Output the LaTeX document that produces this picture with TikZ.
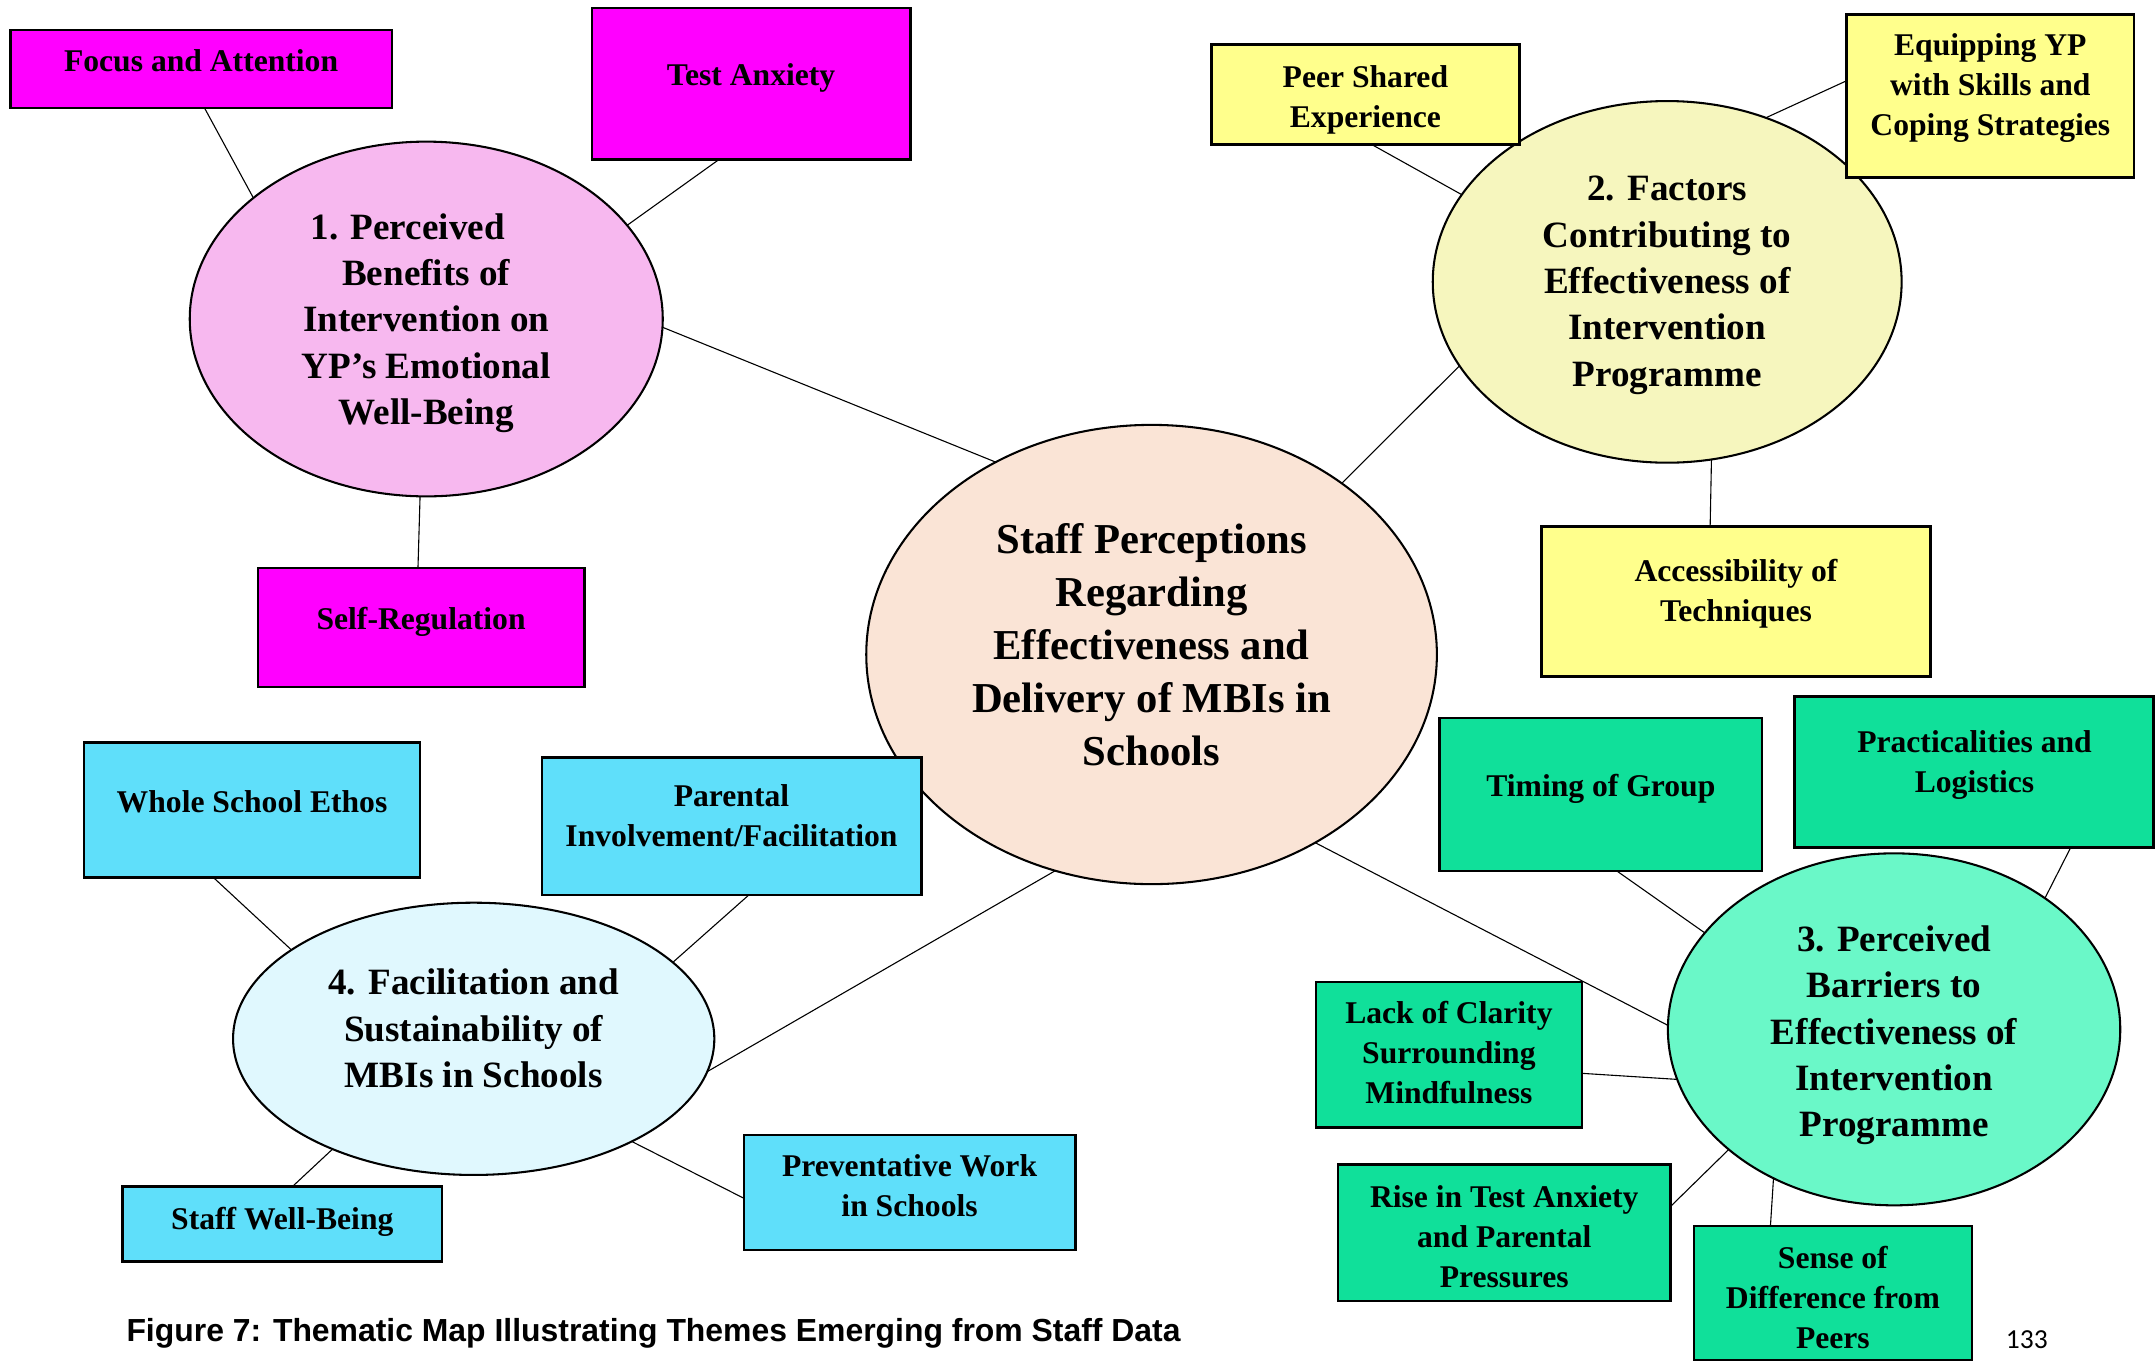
\documentclass[tikz,border=0pt]{standalone}
\usepackage{fontspec}
\setmainfont{Liberation Serif}
\newfontfamily\capfont{Liberation Sans}
\newfontfamily\pagenumfont{Carlito}
\usetikzlibrary{shapes.geometric}

\definecolor{cMag}{HTML}{FF00FF}
\definecolor{cPink}{HTML}{F7B8EF}
\definecolor{cYel}{HTML}{FFFF8C}
\definecolor{cYelL}{HTML}{F6F6BE}
\definecolor{cTeal}{HTML}{10E09A}
\definecolor{cTealL}{HTML}{6AF8C8}
\definecolor{cCyan}{HTML}{5FDFFA}
\definecolor{cCyanL}{HTML}{E0F8FE}
\definecolor{cPeach}{HTML}{FAE4D6}

\begin{document}
\begin{tikzpicture}[x=1pt,y=-1pt,
  every node/.style={inner sep=0pt, outer sep=0pt},
  dims/.style 2 args={minimum width=#1pt, minimum height=#2pt},
  boxbase/.style={draw=black, line width=1.8pt, rectangle},
  magbox/.style={boxbase, fill=cMag},
  yelbox/.style={boxbase, fill=cYel},
  tealbox/.style={boxbase, fill=cTeal},
  cyanbox/.style={boxbase, fill=cCyan},
  ellbase/.style={draw=black, line width=1.5pt, ellipse},
  boxtxt/.style={font=\bfseries\fontsize{23}{29}\selectfont, align=center},
  elltxt/.style={font=\bfseries\fontsize{27}{33.7}\selectfont, align=center},
  maintxt/.style={font=\bfseries\fontsize{31}{38.5}\selectfont, align=center},
  link/.style={draw=black, line width=0.8pt}
]
\useasboundingbox[fill=white] (0,0) rectangle (1568,991);

% ---------- ellipses ----------
\node[ellbase, fill=cPeach, dims={415}{334}] (ec) at (837.5,476) {};
\node[ellbase, fill=cPink,  dims={344}{258}] (e1) at (310,232) {};
\node[ellbase, fill=cYelL,  dims={341}{263}] (e2) at (1212.5,205) {};
\node[ellbase, fill=cTealL, dims={329}{256}] (e3) at (1377.5,748.6) {};
\node[ellbase, fill=cCyanL, dims={350}{198}] (e4) at (344.5,755.5) {};

% ---------- boxes ----------
\node[magbox, dims={277.5}{56.5}] (focus)   at (146.25,50.25) {};
\node[magbox, dims={231.5}{110}]  (anxiety) at (546.25,61) {};
\node[magbox, dims={237.5}{86.6}] (selfreg) at (306.25,456.3) {};

\node[yelbox, dims={224}{72.5}]   (peer)   at (993,68.75) {};
\node[yelbox, dims={209}{118.6}]  (equip)  at (1447.5,69.7) {};
\node[yelbox, dims={283}{109}]    (access) at (1262.5,437.5) {};

\node[cyanbox, dims={244.6}{98}]  (whole)    at (183.3,589) {};
\node[cyanbox, dims={276}{100}]   (parental) at (532,601) {};
\node[cyanbox, dims={232.6}{54.5}](staff)    at (205.3,890.25) {};
\node[cyanbox, dims={241}{83.5}]  (prevent)  at (661.5,867.25) {};

\node[tealbox, dims={234.5}{111.6}] (timing)    at (1164.25,577.8) {};
\node[tealbox, dims={261}{110}]     (practical) at (1435.5,561.45) {};
\node[tealbox, dims={193.5}{106}]   (lack)      at (1053.75,767) {};
\node[tealbox, dims={242}{99}]      (rise)      at (1094,896.5) {};
\node[tealbox, dims={202}{97.4}]    (sense)     at (1333,940.3) {};

% ---------- connectors ----------
\draw[link] (focus.-85.4)    -- (e1.145.5);
\draw[link] (anxiety.-113.8) -- (e1.25.9);
\draw[link] (selfreg.93)     -- (e1.-92);
\draw[link] (e1.-2.3)        -- (ec.129.3);

\draw[link] (peer.-83.7)     -- (e2.157.8);
\draw[link] (equip.174.5)    -- (e2.59.1);
\draw[link] (access.109.7)   -- (e2.-76.5);
\draw[link] (ec.42.5)        -- (e2.-158.2);

\draw[link] (whole.-120.6)   -- (e4.154.4);
\draw[link] (parental.-76.2) -- (e4.21.1);
\draw[link] (ec.-114.9)      -- (e4.-8.9);
\draw[link] (staff.75.7)     -- (e4.-142.5);
\draw[link] (prevent.-178.2) -- (e4.-33.2);

\draw[link] (ec.-49.1)         -- (e3.179.7);
\draw[link] (timing.-78.5)     -- (e3.153.1);
\draw[link] (practical.-38.25) -- (e3.41.5);
\draw[link] (lack.-8.8)        -- (e3.-167.6);
\draw[link] (rise.9.8)         -- (e3.-144.3);
\draw[link] (sense.133.9)      -- (e3.-129.2);

% ---------- ellipse texts ----------
\node[maintxt] (tec) at (837.5,469) {Staff Perceptions\\Regarding\\Effectiveness and\\Delivery of MBIs in\\Schools};
\node[elltxt] (te1) at (310,235) {1. Perceived\hspace*{27pt}\\Benefits of\\Intervention on\\YP’s Emotional\\Well-Being};
\node[elltxt] (te2) at (1212.5,207.5) {2. Factors\\Contributing to\\Effectiveness of\\Intervention\\Programme};
\node[elltxt] (te3) at (1377.5,753) {3. Perceived\\Barriers to\\Effectiveness of\\Intervention\\Programme};
\node[elltxt] (te4) at (344.5,748) {4. Facilitation and\\Sustainability of\\MBIs in Schools};

% ---------- box texts ----------
\node[boxtxt] (tfocus)   at (146.25,44) {Focus and Attention};
\node[boxtxt] (tanxiety) at (546.25,57) {Test Anxiety};
\node[boxtxt] (tselfreg) at (306.25,452) {Self-Regulation};

\node[boxtxt] (tpeer)   at (993,72.5) {Peer Shared\\Experience};
\node[boxtxt] (tequip)  at (1447.5,64) {Equipping YP\\with Skills and\\Coping Strategies};
\node[boxtxt] (taccess) at (1262.5,432) {Accessibility of\\Techniques};

\node[boxtxt] (twhole)    at (183.3,583) {Whole School Ethos};
\node[boxtxt] (tparental) at (532,593.5) {Parental\\Involvement/Facilitation};
\node[boxtxt] (tstaff)    at (205.3,888.6) {Staff Well-Being};
\node[boxtxt] (tprevent)  at (661.5,862.5) {Preventative Work\\in Schools};

\node[boxtxt] (ttiming)    at (1164.25,574) {Timing of Group};
\node[boxtxt] (tpractical) at (1436,556.6) {Practicalities and\\Logistics};
\node[boxtxt] (tlack)      at (1053.75,765.7) {Lack of Clarity\\Surrounding\\Mindfulness};
\node[boxtxt] (trise)      at (1094,899.5) {Rise in Test Anxiety\\and Parental\\Pressures};
\node[boxtxt] (tsense)     at (1333,943.7) {Sense of\\Difference from\\Peers};

% ---------- caption and page number ----------
\node[font=\capfont\bfseries\fontsize{23.2}{27}\selectfont, text=black, anchor=west] (caption) at (92,970) {Figure 7: Thematic Map Illustrating Themes Emerging from Staff Data};
\node[font=\pagenumfont\fontsize{20}{24}\selectfont, anchor=center] (pagenum) at (1474,974) {133};
\end{tikzpicture}
\end{document}
